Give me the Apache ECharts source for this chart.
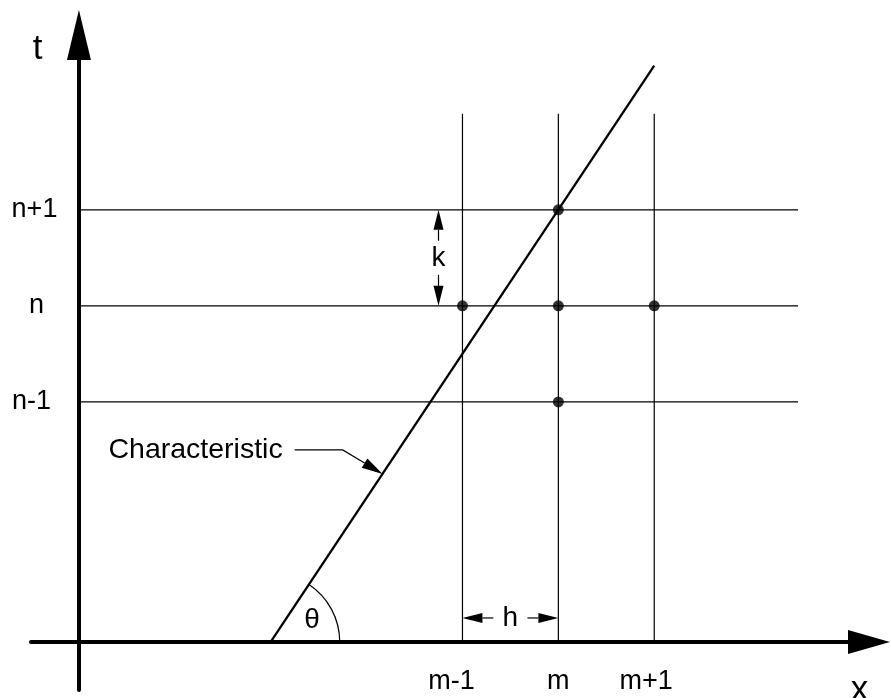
<!DOCTYPE html>
<html>
<head>
<meta charset="utf-8">
<script src="https://cdn.jsdelivr.net/npm/echarts@6/dist/echarts.min.js"></script>
<style>html,body{margin:0;padding:0;background:#fff}#c{width:891px;height:698px}</style>
</head>
<body>
<div id="c"></div>
<script>
// ---- data (x measured in grid steps h from the t-axis, t in steps k from the x-axis) ----
const xTickValues = [4, 5, 6];
const xTickLabels = ['m-1', 'm', 'm+1'];
const tTickValues = [2.5, 3.5, 4.5];
const tTickLabels = ['n-1', 'n', 'n+1'];
const gridRows = [2.5, 3.5, 4.5];      // t of horizontal grid lines
const gridRowSpan = [0, 7.5];          // x extent of horizontal grid lines
const gridCols = [4, 5, 6];            // x of vertical grid lines
const gridColSpan = [0, 5.5];          // t extent of vertical grid lines
const characteristic = [[2, 0], [6, 6]];
const nodes = [[4, 3.5], [5, 3.5], [6, 3.5], [5, 4.5], [5, 2.5]];
const dimensionArrows = [[3.75, 4.5, 3.75, 3.5], [4, 0.25, 5, 0.25]];
const dimensionLabels = ['k', 'h'];
const leaderPath = [[2.25, 2], [2.75, 2], [3.1667, 1.75]];
const leaderLabel = [2.125, 2];
const leaderText = 'Characteristic';
const angleCenter = [2, 0];
const angleRadius = 0.72;
const angleLabel = [2.43, 0.23];
const angleText = 'θ';
const axisNames = ['x', 't'];
const axisNamePos = [[8.14, -0.5], [-0.43, 6.17]];
const axisRange = { xMin: -0.5, xMax: 8.24, tMin: -0.5, tMax: 6.32 };

// ---- styling ----
const FONT = '"Liberation Sans", Arial, sans-serif';
const xLabelShift = [-11, 0, -8];
const tLabelShift = [-2.5, 2.5, 0.5];

function richFor(shifts, size) {
  const r = {};
  shifts.forEach((s, i) => {
    r['a' + i] = {
      fontSize: size, fontFamily: FONT, color: '#000',
      padding: s < 0 ? [0, -2 * s, 0, 0] : [0, 0, 0, 2 * s]
    };
  });
  return r;
}

function arrowHead(tip, dir, len, hw) {
  const bx = tip[0] - dir[0] * len, by = tip[1] - dir[1] * len;
  return {
    type: 'polygon',
    shape: { points: [tip, [bx - dir[1] * hw, by + dir[0] * hw], [bx + dir[1] * hw, by - dir[0] * hw]] },
    style: { fill: '#000' }
  };
}

const gridLineSeries = [];
gridRows.forEach(t => gridLineSeries.push({
  type: 'line', data: [[gridRowSpan[0], t], [gridRowSpan[1], t]], symbol: 'none',
  lineStyle: { color: '#000', width: 1.2 }, z: 1, silent: true
}));
gridCols.forEach(x => gridLineSeries.push({
  type: 'line', data: [[x, gridColSpan[0]], [x, gridColSpan[1]]], symbol: 'none',
  lineStyle: { color: '#000', width: 1.2 }, z: 1, silent: true
}));

const option = {
  animation: false,
  backgroundColor: '#fff',
  grid: { left: 31, right: 22, top: 35, bottom: 8, containLabel: false, outerBoundsMode: 'none' },
  xAxis: {
    type: 'value', min: axisRange.xMin, max: axisRange.xMax,
    axisLine: { show: true, onZero: true, symbol: ['none', 'triangle'], symbolSize: [24, 42], lineStyle: { color: '#000', width: 4 } },
    axisTick: { show: false },
    splitLine: { show: false },
    axisLabel: {
      customValues: xTickValues, margin: -8, verticalAlign: 'middle', fontSize: 27, fontFamily: FONT, color: '#000',
      formatter: v => { const i = xTickValues.indexOf(v); return i < 0 ? '' : '{a' + i + '|' + xTickLabels[i] + '}'; },
      rich: richFor(xLabelShift, 27)
    }
  },
  yAxis: {
    type: 'value', min: axisRange.tMin, max: axisRange.tMax,
    axisLine: { show: true, onZero: true, symbol: ['none', 'triangle'], symbolSize: [24, 50], lineStyle: { color: '#000', width: 4 } },
    axisTick: { show: false },
    splitLine: { show: false },
    axisLabel: {
      customValues: tTickValues, margin: -3, align: 'center', fontSize: 27, fontFamily: FONT, color: '#000',
      formatter: v => { const i = tTickValues.indexOf(v); return i < 0 ? '' : '{a' + i + '|' + tTickLabels[i] + '}'; },
      rich: richFor(tLabelShift, 27)
    }
  },
  series: gridLineSeries.concat([
    {
      type: 'line', data: characteristic, symbol: 'none',
      lineStyle: { color: '#000', width: 2.3 }, z: 3, silent: true
    },
    {
      type: 'scatter', data: nodes, symbol: 'circle', symbolSize: 11,
      itemStyle: { color: '#000' }, z: 5, silent: true
    },
    {
      type: 'custom', data: dimensionArrows, z: 4, silent: true,
      encode: { x: [0, 2], y: [1, 3] },
      renderItem: (params, api) => {
        const p1 = api.coord([api.value(0), api.value(1)]);
        const p2 = api.coord([api.value(2), api.value(3)]);
        const L = Math.hypot(p2[0] - p1[0], p2[1] - p1[1]);
        const u = [(p2[0] - p1[0]) / L, (p2[1] - p1[1]) / L];
        const mid = [(p1[0] + p2[0]) / 2, (p1[1] + p2[1]) / 2];
        const gap = 17, head = 20, hw = 5;
        return {
          type: 'group', children: [
            { type: 'line', shape: { x1: p1[0] + u[0] * head, y1: p1[1] + u[1] * head, x2: mid[0] - u[0] * gap, y2: mid[1] - u[1] * gap }, style: { stroke: '#000', lineWidth: 1.2 } },
            { type: 'line', shape: { x1: mid[0] + u[0] * gap, y1: mid[1] + u[1] * gap, x2: p2[0] - u[0] * head, y2: p2[1] - u[1] * head }, style: { stroke: '#000', lineWidth: 1.2 } },
            arrowHead(p1, [-u[0], -u[1]], head, hw),
            arrowHead(p2, u, head, hw),
            { type: 'text', x: mid[0], y: mid[1], style: { text: dimensionLabels[params.dataIndex], fontSize: 28, fontFamily: FONT, fill: '#000', align: 'center', verticalAlign: 'middle' } }
          ]
        };
      }
    },
    {
      type: 'custom', data: [leaderLabel], z: 4, silent: true,
      renderItem: (params, api) => {
        const pts = leaderPath.map(p => api.coord(p));
        const a = pts[pts.length - 2], b = pts[pts.length - 1];
        const L = Math.hypot(b[0] - a[0], b[1] - a[1]);
        const u = [(b[0] - a[0]) / L, (b[1] - a[1]) / L];
        const head = 21, hw = 5.5;
        const linePts = pts.slice(0, -1).concat([[b[0] - u[0] * head, b[1] - u[1] * head]]);
        const tp = api.coord([api.value(0), api.value(1)]);
        return {
          type: 'group', children: [
            { type: 'polyline', shape: { points: linePts }, style: { stroke: '#000', lineWidth: 1.2, fill: null } },
            arrowHead(b, u, head, hw),
            { type: 'text', x: tp[0], y: tp[1], style: { text: leaderText, fontSize: 28.5, fontFamily: FONT, fill: '#000', align: 'right', verticalAlign: 'middle' } }
          ]
        };
      }
    },
    {
      type: 'custom', data: [angleLabel], z: 4, silent: true,
      renderItem: (params, api) => {
        const c = api.coord(angleCenter);
        const q0 = api.coord(characteristic[0]);
        const q1 = api.coord(characteristic[1]);
        const ang = Math.atan2(q1[1] - q0[1], q1[0] - q0[0]);
        const r = api.size([angleRadius, 0])[0];
        const tp = api.coord([api.value(0), api.value(1)]);
        return {
          type: 'group', children: [
            { type: 'arc', shape: { cx: c[0], cy: c[1], r: r, startAngle: ang, endAngle: 0, clockwise: true }, style: { stroke: '#000', lineWidth: 1.2, fill: null } },
            { type: 'text', x: tp[0], y: tp[1], style: { text: angleText, fontSize: 28, fontFamily: FONT, fill: '#000', align: 'center', verticalAlign: 'middle' } }
          ]
        };
      }
    },
    {
      type: 'custom', data: axisNamePos, z: 4, silent: true,
      renderItem: (params, api) => {
        const tp = api.coord([api.value(0), api.value(1)]);
        return { type: 'text', x: tp[0], y: tp[1], style: { text: axisNames[params.dataIndex], fontSize: 35, fontFamily: FONT, fill: '#000', align: 'center', verticalAlign: 'middle' } };
      }
    }
  ])
};

const chart = echarts.init(document.getElementById('c'), null, { renderer: 'canvas' });
chart.setOption(option);
</script>
</body>
</html>
